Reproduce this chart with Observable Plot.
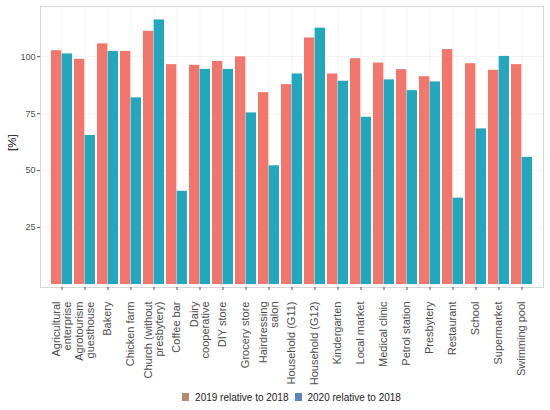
<!DOCTYPE html>
<html>
<head>
<meta charset="utf-8">
<script src="https://cdn.jsdelivr.net/npm/d3@7"></script>
<script src="https://cdn.jsdelivr.net/npm/@observablehq/plot@0.6"></script>
<style>
  body { margin: 0; background: #fff; font-family: "Liberation Sans", Arial, sans-serif; }
  #legend { display: flex; justify-content: center; align-items: center; margin-left: 40px; width: 503px; height: 24px; font-size: 10px; color: #1a1a1a; }
  #legend .item { display: flex; align-items: center; margin: 0 3px; }
  #legend .sw { display: inline-block; width: 7px; height: 8px; margin-right: 6px; }
</style>
</head>
<body>
<div id="chart"></div>
<div id="legend"></div>
<script>
const categories = ["Agricultural enterprise", "Agrotourism guesthouse", "Bakery", "Chicken farm",
  "Church (without presbytery)", "Coffee bar", "Dairy cooperative", "DIY store", "Grocery store",
  "Hairdressing salon", "Household (G11)", "Household (G12)", "Kindergarten", "Local market",
  "Medical clinic", "Petrol station", "Presbytery", "Restaurant", "School", "Supermarket", "Swimming pool"];
const tickLabels = ["Agricultural\nenterprise", "Agrotourism\nguesthouse", "Bakery", "Chicken farm",
  "Church (without\npresbytery)", "Coffee bar", "Dairy\ncooperative", "DIY store", "Grocery store",
  "Hairdressing\nsalon", "Household (G11)", "Household (G12)", "Kindergarten", "Local market",
  "Medical clinic", "Petrol station", "Presbytery", "Restaurant", "School", "Supermarket", "Swimming pool"];
const v2019 = [102.6, 98.8, 105.6, 102.3, 111.1, 96.5, 96.2, 97.9, 99.9, 84.2, 87.7, 108.2, 92.4, 99.1, 97.2, 94.3, 91.2, 103.1, 96.9, 94.0, 96.5];
const v2020 = [101.2, 65.4, 102.3, 81.9, 116.1, 40.9, 94.4, 94.4, 75.3, 52.1, 92.4, 112.5, 89.2, 73.4, 89.8, 85.1, 88.9, 37.9, 68.3, 100.1, 55.8];
const yTicks = [25, 50, 75, 100];
const seriesNames = ["2019 relative to 2018", "2020 relative to 2018"];
const barColors = ["#F2766B", "#22A8BE"];
const keyColors = ["#B88B6E", "#5B86C0"];

const W = 550, H = 385, mL = 40, mR = 7;
// ggplot-style dodge: bars fill 0.9 of each slot, two halves
const step = (W - mL - mR) / (categories.length - 0.1 + 2 * 0.15);
const half = step * 0.9 / 2;

const rows = categories.map((c, i) => ({cat: c, label: tickLabels[i], a: v2019[i], b: v2020[i]}));

const chart = Plot.plot({
  width: W,
  height: H,
  marginTop: 6,
  marginBottom: 98,
  marginLeft: mL,
  marginRight: mR,
  style: {fontFamily: "Liberation Sans, Arial, sans-serif", background: "#fff"},
  x: {domain: categories, paddingInner: 0.1, paddingOuter: 0.15},
  y: {domain: [-1.3, 122]},
  marks: [
    Plot.ruleX(categories, {x: d => d, stroke: "#EBEBEB", strokeWidth: 0.6}),
    Plot.ruleY(yTicks, {stroke: "#EBEBEB", strokeWidth: 0.6}),
    Plot.barY(rows, {x: "cat", y: "a", fill: barColors[0], insetRight: half}),
    Plot.barY(rows, {x: "cat", y: "b", fill: barColors[1], insetLeft: half}),
    Plot.frame({stroke: "#D6D6D6"}),
    Plot.axisY(yTicks, {tickSize: 3, tickPadding: 2, fontSize: 9, fill: "#4D4D4D", stroke: "#555", label: null}),
    Plot.axisX({tickSize: 3, tickFormat: () => "", stroke: "#555", label: null}),
    Plot.text(rows, {x: "cat", text: "label", frameAnchor: "bottom", rotate: -90, textAnchor: "end",
      lineAnchor: "middle", lineHeight: 0.95, dy: 14, fontSize: 11, fill: "#4D4D4D"}),
    Plot.text(["[%]"], {text: d => d, frameAnchor: "left", rotate: -90, dx: -28, dy: 4, fontSize: 11.5, fill: "#000"})
  ]
});
document.getElementById("chart").append(chart);

const legend = d3.select("#legend");
seriesNames.forEach((name, i) => {
  const item = legend.append("div").attr("class", "item");
  item.append("span").attr("class", "sw").style("background", keyColors[i]);
  item.append("span").text(name);
});
</script>
</body>
</html>
